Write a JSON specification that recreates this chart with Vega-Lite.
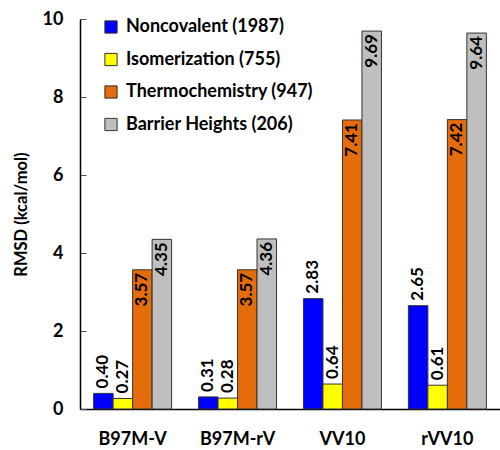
{
  "$schema": "https://vega.github.io/schema/vega-lite/v6.json",
  "width": 420,
  "height": 390,
  "autosize": "none",
  "padding": {"left": 80, "top": 19, "right": 0, "bottom": 41},
  "background": "white",
  "config": {
    "font": "Lato",
    "view": {"stroke": null},
    "axis": {"labelFont": "Lato", "titleFont": "Lato", "labelColor": "black", "titleColor": "black", "domainColor": "black", "tickColor": "#555"},
    "legend": {"labelFont": "Lato"}
  },
  "data": {
    "values": [
      {"method": "B97M-V", "series": "Noncovalent (1987)", "rmsd": 0.40},
      {"method": "B97M-V", "series": "Isomerization (755)", "rmsd": 0.27},
      {"method": "B97M-V", "series": "Thermochemistry (947)", "rmsd": 3.57},
      {"method": "B97M-V", "series": "Barrier Heights (206)", "rmsd": 4.35},
      {"method": "B97M-rV", "series": "Noncovalent (1987)", "rmsd": 0.31},
      {"method": "B97M-rV", "series": "Isomerization (755)", "rmsd": 0.28},
      {"method": "B97M-rV", "series": "Thermochemistry (947)", "rmsd": 3.57},
      {"method": "B97M-rV", "series": "Barrier Heights (206)", "rmsd": 4.36},
      {"method": "VV10", "series": "Noncovalent (1987)", "rmsd": 2.83},
      {"method": "VV10", "series": "Isomerization (755)", "rmsd": 0.64},
      {"method": "VV10", "series": "Thermochemistry (947)", "rmsd": 7.41},
      {"method": "VV10", "series": "Barrier Heights (206)", "rmsd": 9.69},
      {"method": "rVV10", "series": "Noncovalent (1987)", "rmsd": 2.65},
      {"method": "rVV10", "series": "Isomerization (755)", "rmsd": 0.61},
      {"method": "rVV10", "series": "Thermochemistry (947)", "rmsd": 7.42},
      {"method": "rVV10", "series": "Barrier Heights (206)", "rmsd": 9.64}
    ]
  },
  "encoding": {
    "x": {
      "field": "method",
      "type": "nominal",
      "sort": ["B97M-V", "B97M-rV", "VV10", "rVV10"],
      "scale": {"paddingInner": 0.257, "paddingOuter": 0.13},
      "axis": {"title": null, "labelAngle": 0, "ticks": false, "labelFontSize": 18, "labelFontWeight": "bold", "labelPadding": 21, "domainWidth": 1.5}
    },
    "xOffset": {
      "field": "series",
      "type": "nominal",
      "sort": ["Noncovalent (1987)", "Isomerization (755)", "Thermochemistry (947)", "Barrier Heights (206)"]
    },
    "y": {
      "field": "rmsd",
      "type": "quantitative",
      "scale": {"domain": [0, 10], "nice": false},
      "axis": {"title": "RMSD (kcal/mol)", "values": [0, 2, 4, 6, 8, 10], "grid": false, "tickSize": -6, "labelPadding": 23, "labelFontSize": 18, "labelFontWeight": "bold", "titleFontSize": 16.5, "titleFontWeight": "bold", "titlePadding": 13, "domainWidth": 1.5}
    }
  },
  "layer": [
    {
      "mark": {"type": "bar", "stroke": "#333", "strokeWidth": 1},
      "encoding": {
        "color": {
          "field": "series",
          "type": "nominal",
          "scale": {
            "domain": ["Noncovalent (1987)", "Isomerization (755)", "Thermochemistry (947)", "Barrier Heights (206)"],
            "range": ["#0000ff", "#ffff00", "#e46c0a", "#bfbfbf"]
          },
          "legend": {
            "title": null,
            "orient": "none",
            "legendX": 22,
            "legendY": -1,
            "symbolType": "square",
            "symbolSize": 150,
            "symbolStrokeColor": "#333",
            "symbolStrokeWidth": 1,
            "symbolOpacity": 1,
            "labelFontSize": 18,
            "labelFontWeight": "bold",
            "labelColor": "black",
            "labelLimit": 0,
            "rowPadding": 14.5,
            "labelOffset": 6
          }
        }
      }
    },
    {
      "transform": [{"filter": "datum.series == 'Noncovalent (1987)' || datum.series == 'Isomerization (755)'"}],
      "mark": {"type": "text", "angle": 270, "align": "left", "baseline": "middle", "dx": 5, "fontSize": 17, "fontWeight": "bold", "color": "black"},
      "encoding": {"text": {"field": "rmsd", "type": "quantitative", "format": ".2f"}}
    },
    {
      "transform": [{"filter": "datum.series == 'Thermochemistry (947)' || datum.series == 'Barrier Heights (206)'"}],
      "mark": {"type": "text", "angle": 270, "align": "right", "baseline": "middle", "dx": -3, "fontSize": 17, "fontWeight": "bold", "color": "black"},
      "encoding": {"text": {"field": "rmsd", "type": "quantitative", "format": ".2f"}}
    }
  ]
}
